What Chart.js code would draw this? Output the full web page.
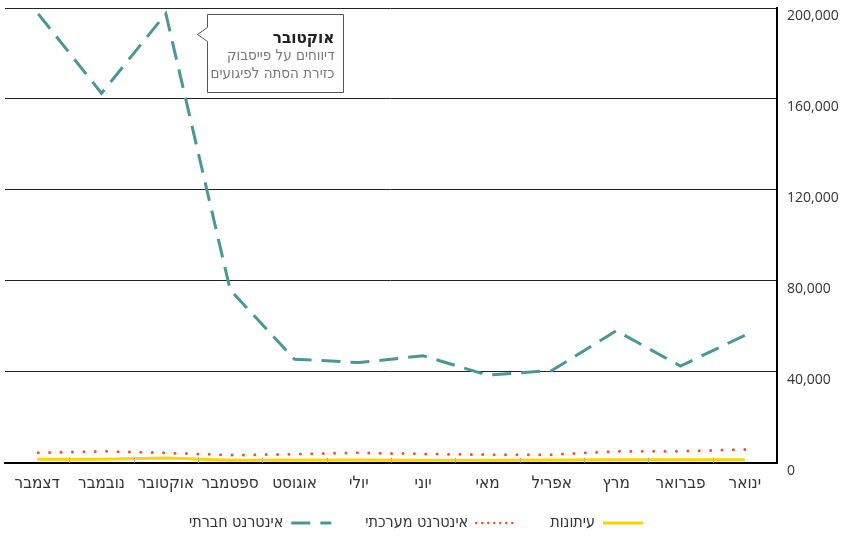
<!DOCTYPE html>
<html lang="he">
<head>
<meta charset="utf-8">
<script src="https://cdn.jsdelivr.net/npm/chart.js@4.4.1/dist/chart.umd.min.js"></script>
<style>
  html, body { margin: 0; padding: 0; background: #fff; }
  #wrap { width: 845px; height: 536px; }
</style>
</head>
<body>
<div id="wrap"><canvas id="chart" width="845" height="536"></canvas></div>
<script>
// months, January first (axis is reversed so it lands on the right)
var months = ['ינואר', 'פברואר', 'מרץ', 'אפריל', 'מאי', 'יוני', 'יולי', 'אוגוסט', 'ספטמבר', 'אוקטובר', 'נובמבר', 'דצמבר'];

var press = [1300, 1200, 1200, 1100, 1000, 1000, 1100, 1100, 1000, 2000, 1500, 1500];
var newsSites = [5800, 5000, 5000, 3500, 3500, 3800, 4300, 3700, 3300, 4300, 5000, 4300];
var social = [56000, 42500, 58000, 40500, 38500, 47000, 44000, 45500, 76000, 197500, 162500, 198000];

var yTicks = [0, 40000, 80000, 120000, 160000, 200000];

var noteTitle = 'אוקטובר';
var noteLines = ['דיווחים על פייסבוק', 'כזירת הסתה לפיגועים'];

var hebFont = "'Liberation Sans Narrow', 'DejaVu Sans Condensed', 'Noto Sans', sans-serif";

// short tick marks between the months, pointing up into the plot
var innerTicks = {
    id: 'innerTicks',
    afterDatasetsDraw: function(chart) {
        var x = chart.scales.x;
        var bottom = chart.chartArea.bottom;
        var ctx = chart.ctx;
        ctx.save();
        ctx.strokeStyle = '#b0b0b0';
        ctx.lineWidth = 1;
        for (var i = 0; i < months.length - 1; i++) {
            var px = Math.round((x.getPixelForValue(i) + x.getPixelForValue(i + 1)) / 2) + 0.5;
            ctx.beginPath();
            ctx.moveTo(px, bottom - 5);
            ctx.lineTo(px, bottom);
            ctx.stroke();
        }
        ctx.restore();
    }
};

// callout box next to the October peak
var callout = {
    id: 'callout',
    afterDatasetsDraw: function(chart) {
        var pt = chart.getDatasetMeta(2).data[9];
        var ctx = chart.ctx;
        var left = Math.round(pt.x) + 41.5;
        var top = Math.round(pt.y) + 0.5;
        var w = 136, h = 78;
        ctx.save();
        ctx.strokeStyle = '#555';
        ctx.fillStyle = '#fff';
        ctx.lineWidth = 1;
        ctx.beginPath();
        ctx.moveTo(left, top);
        ctx.lineTo(left + w, top);
        ctx.lineTo(left + w, top + h);
        ctx.lineTo(left, top + h);
        ctx.lineTo(left, top + 27);
        ctx.lineTo(left - 10, top + 20);
        ctx.lineTo(left, top + 13);
        ctx.closePath();
        ctx.fill();
        ctx.stroke();

        ctx.textAlign = 'right';
        ctx.textBaseline = 'middle';
        ctx.fillStyle = '#222';
        ctx.font = 'bold 17px ' + hebFont;
        ctx.fillText(noteTitle, left + w - 9, top + 24);
        ctx.fillStyle = '#777';
        ctx.font = '15px ' + hebFont;
        ctx.fillText(noteLines[0], left + w - 9, top + 42);
        ctx.fillText(noteLines[1], left + w - 9, top + 60);
        ctx.restore();
    }
};

// keep the legend band short so the plot reaches down like the original,
// and draw its row near the bottom edge
var legendBand = {
    id: 'legendBand',
    afterInit: function(chart) {
        var lg = chart.legend;
        var fit = lg.fit;
        var draw = lg._draw;
        lg.fit = function() {
            fit.call(this);
            this.height = 39;
        };
        lg._draw = function() {
            var t = this.top, l = this.left, r = this.right;
            this.top = 481;
            this.left = l - 9;
            this.right = r - 9;
            draw.call(this);
            this.top = t;
            this.left = l;
            this.right = r;
        };
    }
};

var ctx = document.getElementById('chart').getContext('2d');
var chart = new Chart(ctx, {
    type: 'line',
    data: {
        labels: months,
        datasets: [
            {
                label: 'עיתונות',
                data: press,
                borderColor: '#ffd200',
                backgroundColor: '#ffd200',
                borderWidth: 3,
                pointRadius: 0,
                pointStyle: 'line',
                tension: 0
            },
            {
                label: 'אינטרנט מערכתי',
                data: newsSites,
                borderColor: '#f0522a',
                backgroundColor: '#f0522a',
                borderWidth: 3,
                borderDash: [0, 11.4],
                borderCapStyle: 'round',
                pointRadius: 0,
                pointStyle: 'line',
                tension: 0
            },
            {
                label: 'אינטרנט חברתי',
                data: social,
                borderColor: '#4a9896',
                backgroundColor: '#4a9896',
                borderWidth: 3,
                borderDash: [19, 10],
                pointRadius: 0,
                pointStyle: 'line',
                tension: 0
            }
        ]
    },
    options: {
        responsive: false,
        animation: false,
        layout: { padding: { left: 5, top: 8, right: 0, bottom: 0 } },
        plugins: {
            tooltip: { enabled: false },
            legend: {
                position: 'bottom',
                rtl: true,
                labels: {
                    usePointStyle: true,
                    pointStyleWidth: 40,
                    boxHeight: 3,
                    padding: 34,
                    color: '#333',
                    font: { family: hebFont, size: 16 },
                    generateLabels: function(chart) {
                        var items = Chart.defaults.plugins.legend.labels.generateLabels(chart);
                        items.forEach(function(it) {
                            var ds = chart.data.datasets[it.datasetIndex];
                            var dash = ds.borderDash || [];
                            // the dotted sample in the key is packed tighter than on the plot
                            if (dash.length && dash[0] === 0) dash = [0, 6];
                            it.lineDash = dash;
                            it.lineWidth = ds.borderCapStyle === 'round' ? 2.5 : ds.borderWidth;
                            it.lineCap = ds.borderCapStyle || 'butt';
                            it.strokeStyle = ds.borderColor;
                        });
                        return items;
                    }
                }
            }
        },
        scales: {
            x: {
                reverse: true,
                offset: true,
                grid: { display: false },
                border: { display: true, color: '#000', width: 2 },
                ticks: {
                    color: '#333',
                    padding: 3,
                    font: { family: hebFont, size: 17 }
                }
            },
            y: {
                position: 'right',
                min: 0,
                max: 200000,
                afterBuildTicks: function(scale) {
                    scale.ticks = yTicks.map(function(v) { return { value: v }; });
                },
                afterFit: function(scale) {
                    scale.width = 68;
                    scale.paddingTop = 0;
                    scale.paddingBottom = 0;
                },
                grid: { color: '#222', lineWidth: 1, drawTicks: false },
                border: { display: true, color: '#000', width: 2 },
                ticks: {
                    color: '#333',
                    padding: 10,
                    labelOffset: 8,
                    font: { family: "'Open Sans', sans-serif", size: 14 },
                    callback: function(v) { return v.toLocaleString('en-US'); }
                }
            }
        }
    },
    plugins: [innerTicks, callout, legendBand]
});
</script>
</body>
</html>
